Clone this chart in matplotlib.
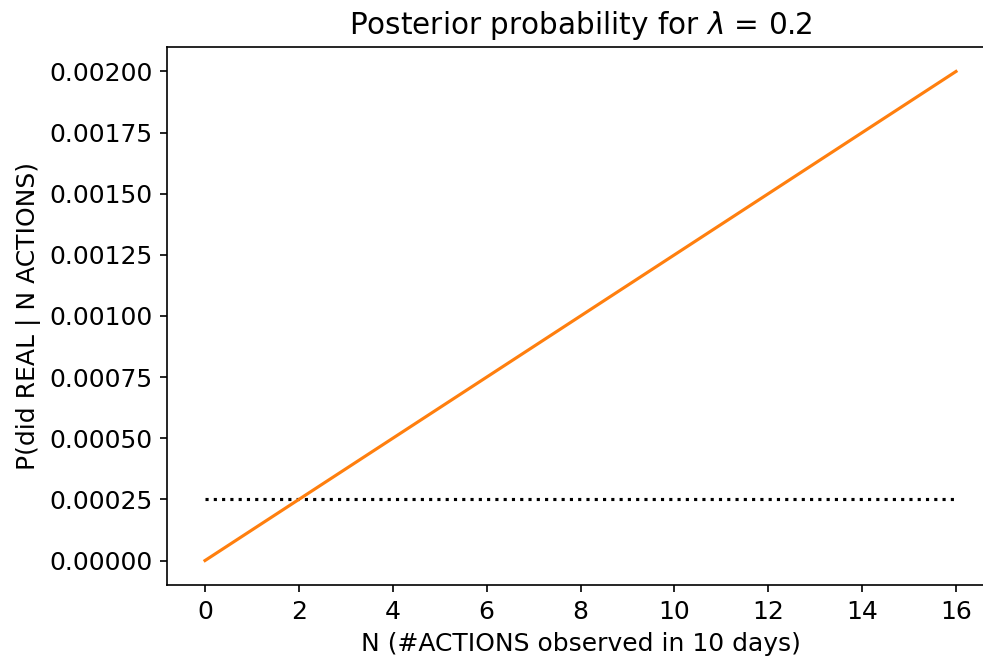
import matplotlib
matplotlib.use("Agg")
import matplotlib.pyplot as plt

N = [0, 1, 2, 3, 4, 5, 6, 7, 8, 9, 10, 11, 12, 13, 14, 15, 16]
posterior = [0.0, 0.000125, 0.00025, 0.000375, 0.0005, 0.000625, 0.00075, 0.000875,
             0.001, 0.001125, 0.00125, 0.001375, 0.0015, 0.001625, 0.00175, 0.001875, 0.002]
threshold = 0.00025
lam = 0.2

plt.rcParams['font.size'] = 12
fig = plt.figure(figsize=(9.84 / 1.5, 6.63 / 1.5), dpi=150)
left_px, right_px = 167, 994
ax = fig.add_axes([left_px / 984, 1 - 585 / 663, (right_px - left_px) / 984, (585 - 47) / 663])
ax.plot(N, [threshold] * len(N), ':', color='black', linewidth=1.5)
ax.plot(N, posterior, color='#ff7f0e', linewidth=1.5)
ax.set_xticks(range(0, 17, 2))
scale = (956 - 205) / 16
ax.set_xlim(-(205 - left_px) / scale, 16 + (right_px - 956) / scale)
ax.spines['right'].set_visible(False)
ax.set_title(r"Posterior probability for $\lambda$ = " + str(lam), fontsize=14.2)
ax.set_xlabel("N (#ACTIONS observed in 10 days)")
ax.set_ylabel("P(did REAL | N ACTIONS)")
fig.savefig("out.png", dpi=150)
